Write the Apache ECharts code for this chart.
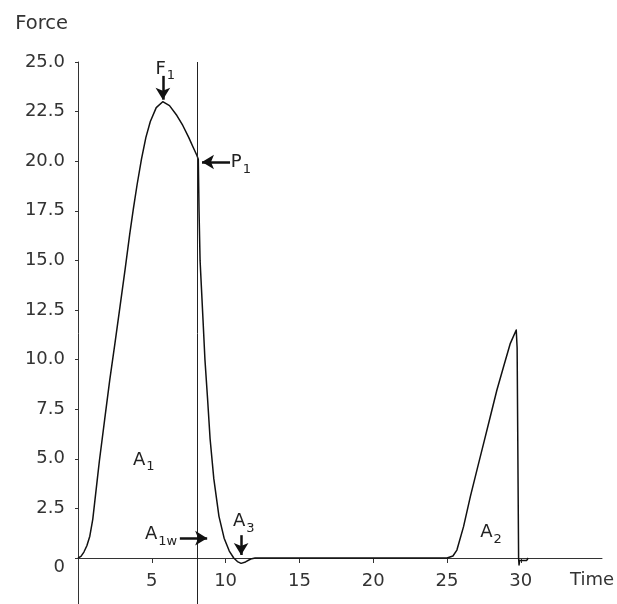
<!DOCTYPE html>
<html>
<head>
<meta charset="utf-8">
<script src="https://cdn.jsdelivr.net/npm/echarts@6/dist/echarts.min.js"></script>
<style>html,body{margin:0;padding:0;background:#fff}#c{width:617px;height:604px}</style>
</head>
<body>
<div id="c"></div>
<script>
const timeVals = [0,0.2,0.4,0.6,0.8,1.0,1.29,1.45,1.81,2.15,2.5,2.85,3.2,3.5,3.75,4.0,4.3,4.6,4.9,5.3,5.74,6.2,6.7,7.1,7.5,7.8,8.05,8.15,8.2,8.27,8.37,8.47,8.6,8.78,8.95,9.2,9.55,9.9,10.25,10.55,10.8,11.05,11.35,11.7,12,25.0,25.4,25.67,26.12,26.58,27.03,27.48,27.93,28.38,28.83,29.29,29.69,29.75,29.85,29.88,29.92,30.4,30.5];
const forceVals = [0,0.08,0.3,0.62,1.1,1.95,3.85,4.9,7.0,8.97,10.8,12.7,14.6,16.3,17.6,18.8,20.1,21.2,22.0,22.7,23.0,22.8,22.3,21.8,21.2,20.7,20.3,20.1,17.5,15.0,13.5,12.0,10.0,8.0,6.0,4.0,2.1,1.0,0.35,0.0,-0.18,-0.27,-0.2,-0.05,0,0,0.1,0.4,1.58,3.09,4.44,5.78,7.12,8.47,9.64,10.82,11.49,10.6,0,-0.35,-0.12,-0.12,0];
const xTicks = [5,10,15,20,25,30];
const yTicks = [0,2.5,5,7.5,10,12.5,15,17.5,20,22.5,25];
const markerTime = 8.1;
// annotations: [text, subscript, x, y]
const labels = [
  ['F','1',5.25,24.65],
  ['P','1',10.35,19.95],
  ['A','1',3.73,4.94],
  ['A','1w',4.54,1.2],
  ['A','3',10.5,1.85],
  ['A','2',27.25,1.3]
];
// arrows: [x1,y1,x2,y2]
const arrows = [
  [5.75,24.3,5.75,23.1],
  [10.3,19.96,8.4,19.96],
  [6.9,1.0,8.75,1.0],
  [11.05,1.15,11.05,0.15]
];

const FONT = 'DejaVu Sans';
const chart = echarts.init(document.getElementById('c'));
const data = timeVals.map((t,i)=>[t,forceVals[i]]);
chart.setOption({
  animation:false,
  grid:{left:78,top:62,right:15,bottom:-3.6,containLabel:false,outerBoundsMode:'none'},
  xAxis:{
    type:'value',min:0,max:35.5,interval:5,
    name:'Time',nameLocation:'end',nameGap:-32,
    nameTextStyle:{fontFamily:FONT,fontSize:18,color:'#333',align:'left',verticalAlign:'top',padding:[13,0,0,0]},
    axisLine:{onZero:true,lineStyle:{color:'#333',width:1}},
    axisTick:{show:true,length:5,customValues:xTicks,lineStyle:{color:'#333'}},
    axisLabel:{customValues:xTicks,fontFamily:FONT,fontSize:18,color:'#333',margin:-35},
    splitLine:{show:false}
  },
  yAxis:{
    type:'value',min:-2.5,max:25,interval:2.5,
    name:'Force',nameLocation:'end',nameGap:38,
    nameTextStyle:{fontFamily:FONT,fontSize:19.5,color:'#333',align:'right',verticalAlign:'middle',padding:[0,10,0,0]},
    axisLine:{show:true,lineStyle:{color:'#333',width:1}},
    axisTick:{show:true,length:3,customValues:yTicks,lineStyle:{color:'#333'}},
    axisLabel:{customValues:yTicks,fontFamily:FONT,fontSize:18,color:'#333',margin:13,
      formatter:v=> v===0 ? '{z|0}' : v.toFixed(1),
      rich:{z:{fontFamily:FONT,fontSize:18,color:'#333',padding:[18,0,0,0]}}},
    splitLine:{show:false}
  },
  series:[{
    type:'line',data:data,showSymbol:false,symbol:'none',
    lineStyle:{color:'#111',width:1.5,join:'round'},
    markLine:{
      silent:true,symbol:'none',label:{show:false},
      lineStyle:{color:'#222',width:1,type:'solid'},
      data:[{xAxis:markerTime}]
    }
  },{
    type:'line',data:[],
    markLine:{
      silent:true,symbol:['none','arrow'],symbolSize:[11,12],label:{show:false},
      lineStyle:{color:'#111',width:2.5,type:'solid'},
      data:arrows.map(a=>[{coord:[a[0],a[1]]},{coord:[a[2],a[3]]}])
    }
  }]
});
const g = labels.map(l=>{
  const p = chart.convertToPixel({gridIndex:0},[l[2],l[3]]);
  return {type:'text',x:p[0],y:p[1],style:{
    text:l[0]+'{s|'+l[1]+'}',fill:'#222',font:'18px '+FONT,verticalAlign:'middle',align:'left',
    rich:{s:{fontSize:13,fontFamily:FONT,fill:'#222',padding:[14,0,0,1]}}
  }};
});
chart.setOption({graphic:g});
</script>
</body>
</html>
